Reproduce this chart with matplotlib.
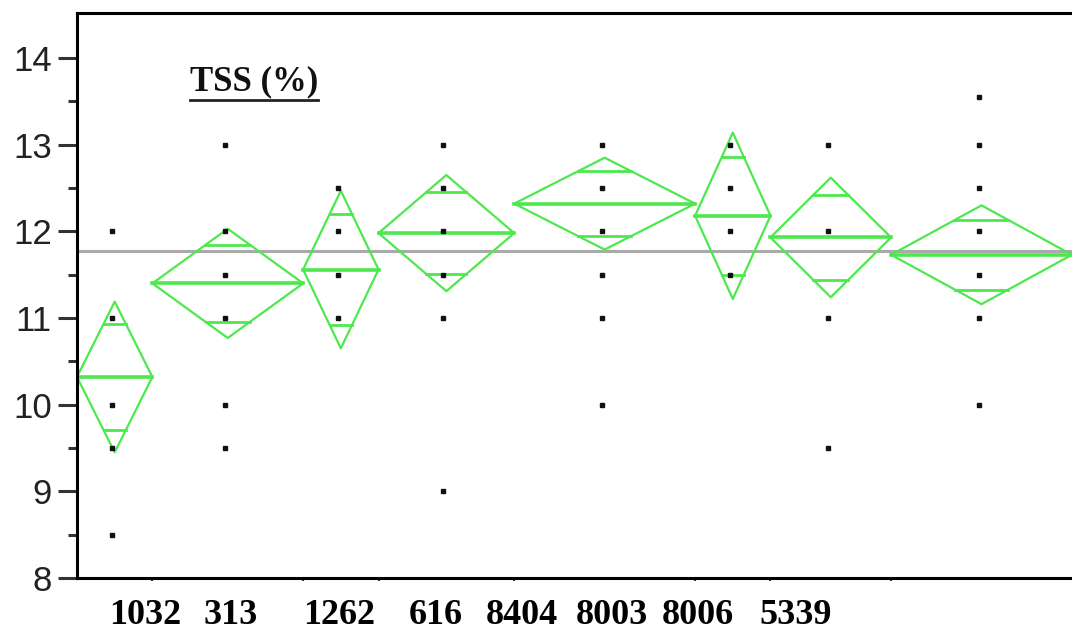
import numpy as np
import matplotlib.pyplot as plt
from matplotlib.lines import Line2D

# Data
groups = ["1032", "313", "1262", "616", "8404", "8003", "8006", "5339"]
n = [5, 10, 5, 9, 12, 5, 8, 12]
means = [10.32, 11.40, 11.56, 11.98, 12.32, 12.18, 11.93, 11.73]
ci_half = [0.87, 0.63, 0.91, 0.67, 0.53, 0.96, 0.69, 0.57]
points = [
    [12.0, 11.0, 10.0, 9.5, 8.5],
    [13.0, 12.0, 11.5, 11.0, 10.0, 9.5],
    [12.5, 12.0, 11.5, 11.0],
    [13.0, 12.5, 12.0, 11.5, 11.0, 9.0],
    [13.0, 12.5, 12.0, 11.5, 11.0, 10.0],
    [13.0, 12.5, 12.0, 11.5],
    [13.0, 12.0, 11.0, 9.5],
    [13.55, 13.0, 12.5, 12.0, 11.5, 11.0, 10.0],
]
grand_mean = 11.77
label_pos = [4.5, 10.2, 17.4, 23.8, 29.5, 35.5, 41.2, 47.7]

green = "#4de84d"

fig = plt.figure(figsize=(10.72, 6.41), dpi=100)
ax = fig.add_axes([77 / 1072, 63 / 641, 995 / 1072, 565 / 641])

edges = np.concatenate([[0], np.cumsum(n)])
ax.axhline(grand_mean, color="#aaaaaa", lw=2.2, zorder=1)

for i in range(len(groups)):
    x0, x1 = edges[i], edges[i + 1]
    xc = (x0 + x1) / 2
    hw = (x1 - x0) / 2
    m, h = means[i], ci_half[i]
    # diamond
    ax.plot([x0, xc, x1, xc, x0], [m, m + h, m, m - h, m], color=green, lw=1.6, zorder=2)
    ax.plot([x0, x1], [m, m], color=green, lw=2.6, zorder=2)
    # overlap marks
    ov = h / np.sqrt(2)
    frac = 1 - 1 / np.sqrt(2)
    for y in (m + ov, m - ov):
        ax.plot([xc - frac * hw, xc + frac * hw], [y, y], color=green, lw=2.0, zorder=2)
    ax.plot([xc - 0.2] * len(points[i]), points[i], ls="none", marker="s",
            ms=3.4, color="#111111", zorder=3)

ax.set_xlim(0, 66)
ax.set_ylim(8, 14.52)

ax.set_yticks(range(8, 15))
ax.set_yticks(np.arange(8.5, 14.5, 1), minor=True)
ax.set_yticklabels([str(v) for v in range(8, 15)], fontsize=25,
                   family="Liberation Sans", color="#222222")
ax.tick_params(axis="y", which="major", length=14, width=2.2, color="#333333", pad=4)
ax.tick_params(axis="y", which="minor", length=6.5, width=2.2, color="#333333")

ax.set_xticks(label_pos)
ax.set_xticklabels(groups, fontsize=26, family="Liberation Serif", weight="bold")
ax.set_xticks(edges[1:-1], minor=True)
ax.tick_params(axis="x", which="major", length=0, pad=15)
ax.tick_params(axis="x", which="minor", length=2.5, width=1.5, color="#333333")

for s in ("left", "top", "bottom"):
    ax.spines[s].set_linewidth(2.2)
    ax.spines[s].set_color("black")
ax.spines["right"].set_visible(False)

t = ax.text(0.1136, 0.864, "TSS (%)", transform=ax.transAxes, fontsize=25,
            family="Liberation Serif", weight="bold", va="baseline", color="#111111")
fig.canvas.draw()
bb = t.get_window_extent()
fx0, fx1 = bb.x0 / fig.bbox.width, bb.x1 / fig.bbox.width
fy = (bb.y0 - 2) / fig.bbox.height
fig.add_artist(Line2D([fx0, fx1], [fy, fy], color="#222222", lw=2))

plt.savefig("out.png", dpi=100)
